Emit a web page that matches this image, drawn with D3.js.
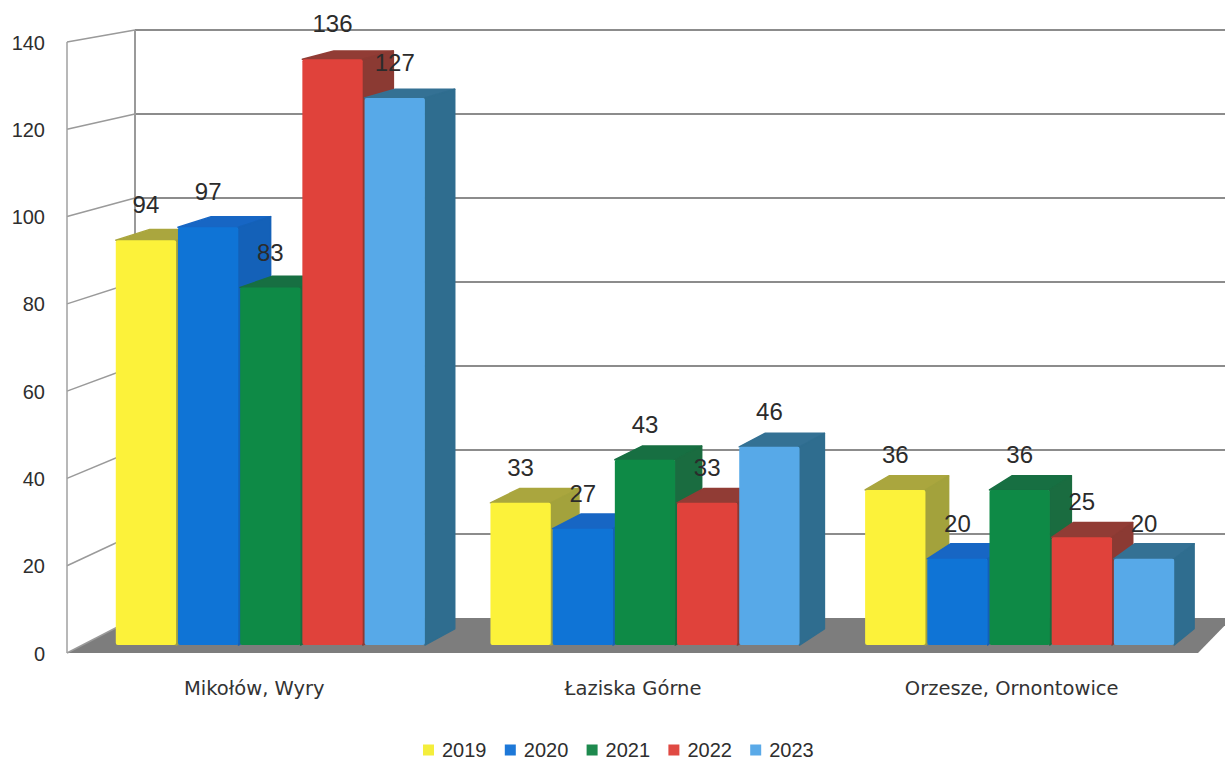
<!DOCTYPE html>
<html>
<head>
<meta charset="utf-8">
<script src="https://cdn.jsdelivr.net/npm/d3@7"></script>
<style>
  body { margin: 0; background: #fff; }
  svg { display: block; font-family: "Liberation Sans", Arial, sans-serif; }
</style>
</head>
<body>
<div id="chart"></div>
<script>
const categories = ["Mikołów, Wyry", "Łaziska Górne", "Orzesze, Ornontowice"];
const years = ["2019", "2020", "2021", "2022", "2023"];
const values2019 = [94, 33, 36];
const values2020 = [97, 27, 20];
const values2021 = [83, 43, 36];
const values2022 = [136, 33, 25];
const values2023 = [127, 46, 20];
const yTicks = [0, 20, 40, 60, 80, 100, 120, 140];

const series = [values2019, values2020, values2021, values2022, values2023];

// front / side / top colours per year
const colors = {
    "2019": { front: "#fcf23a", side: "#a3a23c", top: "#aaa63e", legend: "#f4ee3c" },
    "2020": { front: "#0f74d6", side: "#1461b8", top: "#1766c4", legend: "#1d78d8" },
    "2021": { front: "#0e8a46", side: "#1a6c40", top: "#176f42", legend: "#1e8a4e" },
    "2022": { front: "#e0423b", side: "#8b3a33", top: "#913c35", legend: "#e04a43" },
    "2023": { front: "#57a9e8", side: "#2f6d8f", top: "#347194", legend: "#5aaae8" }
};

const width = 1225, height = 760;

const svg = d3.select("#chart").append("svg")
    .attr("width", width)
    .attr("height", height);

// scales
const yBar = d3.scaleLinear().domain([0, 140]).range([645, 42]);
const yFront = d3.scaleLinear().domain([0, 140]).range([653, 42]);
const yBack = d3.scaleLinear().domain([0, 140]).range([618, 30]);
const wallFrontX = 67, wallBackX = 135;

const x0 = d3.scaleBand()
    .domain(categories)
    .range([83, 1207])
    .paddingInner(0.175)
    .paddingOuter(0.0875);

const x1 = d3.scaleBand()
    .domain(years)
    .range([0, x0.bandwidth()])
    .paddingInner(0.03);

// depth projection of a front point
function back(x, y) {
    return [x + 35.5 - 0.0133 * x, y - (7.5 + 0.0135 * y)];
}

// floor
svg.append("polygon")
    .attr("points", [[wallFrontX, 653], [1198, 653], [1232, 618], [wallBackX, 618]].join(" "))
    .attr("fill", "#7d7d7d");

// back wall gridlines
svg.append("g").selectAll("line")
    .data(yTicks.filter(d => d > 0))
    .enter().append("line")
    .attr("x1", wallBackX).attr("x2", width)
    .attr("y1", d => yBack(d)).attr("y2", d => yBack(d))
    .attr("stroke", "#8c8c8c")
    .attr("stroke-width", 2);

// left wall lines
svg.append("g").selectAll("line")
    .data(yTicks)
    .enter().append("line")
    .attr("x1", wallFrontX).attr("x2", wallBackX)
    .attr("y1", d => yFront(d)).attr("y2", d => yBack(d))
    .attr("stroke", "#9a9a9a")
    .attr("stroke-width", 1.5);

svg.append("line")
    .attr("x1", wallFrontX).attr("x2", wallFrontX)
    .attr("y1", yFront(0)).attr("y2", yFront(140))
    .attr("stroke", "#a0a0a0").attr("stroke-width", 1.5);

svg.append("line")
    .attr("x1", wallBackX).attr("x2", wallBackX)
    .attr("y1", yBack(0)).attr("y2", yBack(140))
    .attr("stroke", "#9a9a9a").attr("stroke-width", 2);

// y-axis labels
svg.append("g").selectAll("text")
    .data(yTicks)
    .enter().append("text")
    .attr("x", 45)
    .attr("y", d => yFront(d) + 7.5)
    .attr("text-anchor", "end")
    .attr("font-size", "20px")
    .attr("fill", "#2e2e2e")
    .text(d => d);

// bars
const barData = [];
categories.forEach((cat, i) => {
    years.forEach((yr, j) => {
        barData.push({ cat: cat, year: yr, value: series[j][i] });
    });
});

const bars = svg.append("g");
barData.forEach(d => {
    const xl = x0(d.cat) + x1(d.year);
    const xr = xl + x1.bandwidth();
    const yt = yBar(d.value);
    const yb = yBar(0);
    const c = colors[d.year];
    const g = bars.append("g");

    // top face
    g.append("polygon")
        .attr("points", [[xl, yt], [xr, yt], back(xr, yt), back(xl, yt)].join(" "))
        .attr("fill", c.top)
        .attr("stroke", c.top).attr("stroke-linejoin", "round").attr("stroke-width", 1.5);

    // side face
    g.append("polygon")
        .attr("points", [[xr, yt], back(xr, yt), back(xr, yb), [xr, yb]].join(" "))
        .attr("fill", c.side)
        .attr("stroke", c.side).attr("stroke-linejoin", "round").attr("stroke-width", 1.5);

    // front face
    g.append("rect")
        .attr("x", xl).attr("y", yt)
        .attr("width", xr - xl).attr("height", yb - yt)
        .attr("rx", 2)
        .attr("fill", c.front);
});

// value labels
svg.append("g").selectAll("text")
    .data(barData)
    .enter().append("text")
    .attr("x", d => x0(d.cat) + x1(d.year) + x1.bandwidth() / 2)
    .attr("y", d => yBar(d.value) - 27)
    .attr("text-anchor", "middle")
    .attr("font-size", "24px")
    .attr("fill", "#2b2b2b")
    .text(d => d.value);

// category labels
svg.append("g").selectAll("text")
    .data(categories)
    .enter().append("text")
    .attr("x", (d, i) => x0(d) + x0.bandwidth() / 2 - 16 + 4 * i)
    .attr("y", 695)
    .attr("text-anchor", "middle")
    .attr("font-family", "'DejaVu Sans', sans-serif")
    .attr("font-size", "19.5px")
    .attr("fill", "#333")
    .text(d => d);

// legend
const legend = svg.append("g")
    .attr("transform", "translate(423,750)");

const items = legend.selectAll("g")
    .data(years)
    .enter().append("g")
    .attr("transform", (d, i) => "translate(" + (i * 81.8) + ",0)");

items.append("rect")
    .attr("x", 0).attr("y", -5.5)
    .attr("width", 11).attr("height", 11)
    .attr("fill", d => colors[d].legend);

items.append("text")
    .attr("x", 19)
    .attr("y", 7)
    .attr("font-size", "20px")
    .attr("fill", "#2e2e2e")
    .text(d => d);
</script>
</body>
</html>
